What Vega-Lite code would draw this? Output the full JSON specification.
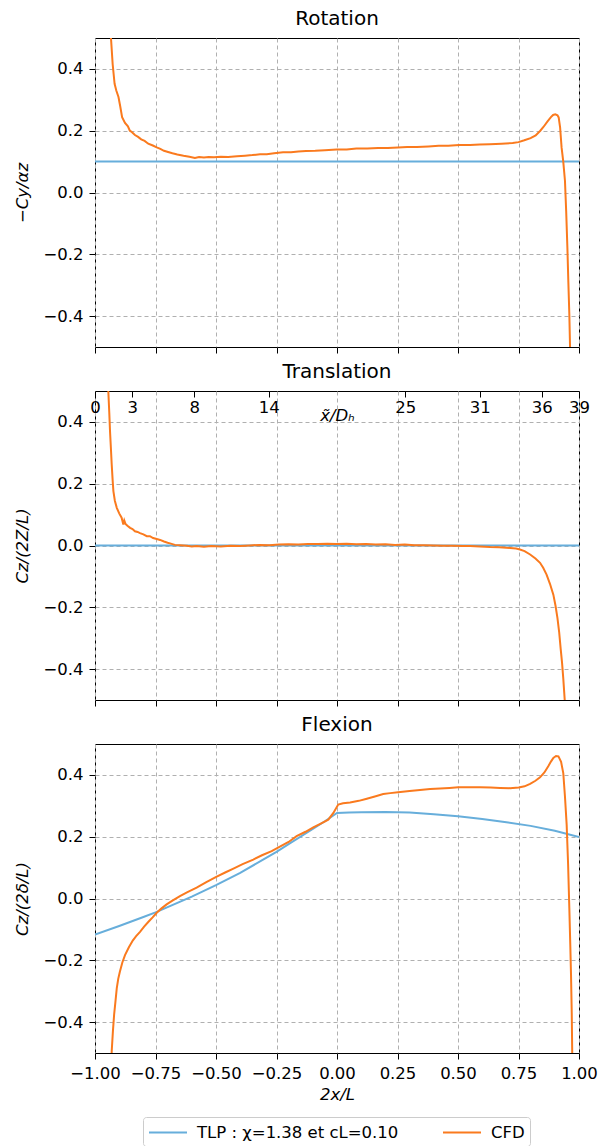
{
  "$schema": "https://vega.github.io/schema/vega-lite/v6.json",
  "padding": {"left": 14, "top": 8, "right": 5, "bottom": 5},
  "background": "white",
  "config": {
    "font": "DejaVu Sans",
    "view": {"stroke": "black", "strokeWidth": 1},
    "axis": {
      "labelFont": "DejaVu Sans", "labelFontSize": 16.5, "labelColor": "black",
      "titleFont": "DejaVu Sans", "titleFontSize": 16.5, "titleFontWeight": "normal", "titleColor": "black",
      "tickColor": "black", "tickSize": 6, "tickWidth": 1, "domain": false,
      "gridColor": "#b0b0b0", "gridDash": [4, 3], "gridWidth": 1, "labelPadding": 6,
      "labelFlush": false, "labelOverlap": false
    },
    "title": {"font": "DejaVu Sans", "fontSize": 20, "fontWeight": "normal", "color": "black", "offset": 9, "baseline": "alphabetic"}
  },
  "datasets": {
    "rot_tlp": [{"x": -1, "y": 0.1}, {"x": 1, "y": 0.1}],
    "trans_tlp": [{"x": -1, "y": 0.0}, {"x": 1, "y": 0.0}],
    "top_ticks": [{"xt": 0}, {"xt": 3}, {"xt": 8}, {"xt": 14}, {"xt": 25}, {"xt": 31}, {"xt": 36}, {"xt": 39}],
    "rot_cfd": [
      {"x": -0.94, "y": 0.6}, {"x": -0.934, "y": 0.5}, {"x": -0.927, "y": 0.415}, {"x": -0.919, "y": 0.352},
      {"x": -0.912, "y": 0.33}, {"x": -0.903, "y": 0.309}, {"x": -0.896, "y": 0.28}, {"x": -0.888, "y": 0.244},
      {"x": -0.876, "y": 0.225}, {"x": -0.864, "y": 0.214}, {"x": -0.856, "y": 0.2}, {"x": -0.848, "y": 0.196},
      {"x": -0.835, "y": 0.186}, {"x": -0.822, "y": 0.18}, {"x": -0.809, "y": 0.172}, {"x": -0.795, "y": 0.167},
      {"x": -0.78, "y": 0.158}, {"x": -0.761, "y": 0.152}, {"x": -0.745, "y": 0.146}, {"x": -0.73, "y": 0.141},
      {"x": -0.715, "y": 0.135}, {"x": -0.698, "y": 0.131}, {"x": -0.68, "y": 0.127}, {"x": -0.66, "y": 0.123},
      {"x": -0.634, "y": 0.119}, {"x": -0.61, "y": 0.116}, {"x": -0.587, "y": 0.112}, {"x": -0.57, "y": 0.115},
      {"x": -0.55, "y": 0.113}, {"x": -0.53, "y": 0.115}, {"x": -0.508, "y": 0.114}, {"x": -0.48, "y": 0.116},
      {"x": -0.45, "y": 0.115}, {"x": -0.413, "y": 0.117}, {"x": -0.38, "y": 0.119}, {"x": -0.35, "y": 0.121},
      {"x": -0.318, "y": 0.124}, {"x": -0.29, "y": 0.124}, {"x": -0.26, "y": 0.127}, {"x": -0.223, "y": 0.13},
      {"x": -0.19, "y": 0.13}, {"x": -0.16, "y": 0.133}, {"x": -0.128, "y": 0.134}, {"x": -0.09, "y": 0.135},
      {"x": -0.05, "y": 0.137}, {"x": -0.002, "y": 0.139}, {"x": 0.04, "y": 0.139}, {"x": 0.08, "y": 0.142},
      {"x": 0.125, "y": 0.142}, {"x": 0.17, "y": 0.144}, {"x": 0.21, "y": 0.144}, {"x": 0.252, "y": 0.146},
      {"x": 0.29, "y": 0.147}, {"x": 0.33, "y": 0.147}, {"x": 0.378, "y": 0.149}, {"x": 0.42, "y": 0.151},
      {"x": 0.46, "y": 0.151}, {"x": 0.505, "y": 0.154}, {"x": 0.55, "y": 0.154}, {"x": 0.59, "y": 0.155},
      {"x": 0.631, "y": 0.156}, {"x": 0.68, "y": 0.158}, {"x": 0.726, "y": 0.16}, {"x": 0.75, "y": 0.163},
      {"x": 0.774, "y": 0.169}, {"x": 0.8, "y": 0.176}, {"x": 0.821, "y": 0.185}, {"x": 0.84, "y": 0.2},
      {"x": 0.853, "y": 0.212}, {"x": 0.87, "y": 0.23}, {"x": 0.884, "y": 0.244}, {"x": 0.893, "y": 0.251},
      {"x": 0.902, "y": 0.253}, {"x": 0.911, "y": 0.25}, {"x": 0.916, "y": 0.243}, {"x": 0.922, "y": 0.21},
      {"x": 0.928, "y": 0.146}, {"x": 0.935, "y": 0.1}, {"x": 0.942, "y": 0.038}, {"x": 0.947, "y": -0.06},
      {"x": 0.952, "y": -0.178}, {"x": 0.956, "y": -0.29}, {"x": 0.96, "y": -0.393}, {"x": 0.963, "y": -0.5},
      {"x": 0.965, "y": -0.6}
    ],
    "trans_cfd": [
      {"x": -0.948, "y": 0.6}, {"x": -0.945, "y": 0.5}, {"x": -0.941, "y": 0.43}, {"x": -0.938, "y": 0.371},
      {"x": -0.934, "y": 0.31}, {"x": -0.931, "y": 0.263}, {"x": -0.927, "y": 0.21}, {"x": -0.924, "y": 0.176},
      {"x": -0.918, "y": 0.145}, {"x": -0.91, "y": 0.122}, {"x": -0.9, "y": 0.104}, {"x": -0.89, "y": 0.09},
      {"x": -0.883, "y": 0.068}, {"x": -0.879, "y": 0.081}, {"x": -0.874, "y": 0.07}, {"x": -0.866, "y": 0.064},
      {"x": -0.855, "y": 0.057}, {"x": -0.845, "y": 0.053}, {"x": -0.835, "y": 0.046}, {"x": -0.824, "y": 0.044},
      {"x": -0.814, "y": 0.04}, {"x": -0.8, "y": 0.036}, {"x": -0.786, "y": 0.03}, {"x": -0.773, "y": 0.03},
      {"x": -0.76, "y": 0.024}, {"x": -0.745, "y": 0.021}, {"x": -0.731, "y": 0.018}, {"x": -0.715, "y": 0.013},
      {"x": -0.7, "y": 0.009}, {"x": -0.69, "y": 0.007}, {"x": -0.67, "y": 0.002}, {"x": -0.649, "y": 0.001},
      {"x": -0.62, "y": -0.001}, {"x": -0.6, "y": -0.003}, {"x": -0.58, "y": -0.002}, {"x": -0.55, "y": -0.004},
      {"x": -0.52, "y": -0.002}, {"x": -0.48, "y": -0.003}, {"x": -0.44, "y": -0.001}, {"x": -0.4, "y": -0.002},
      {"x": -0.36, "y": 0.0}, {"x": -0.32, "y": 0.002}, {"x": -0.28, "y": 0.001}, {"x": -0.24, "y": 0.003},
      {"x": -0.2, "y": 0.004}, {"x": -0.16, "y": 0.003}, {"x": -0.12, "y": 0.005}, {"x": -0.08, "y": 0.005},
      {"x": -0.04, "y": 0.006}, {"x": 0.0, "y": 0.005}, {"x": 0.04, "y": 0.006}, {"x": 0.08, "y": 0.004},
      {"x": 0.12, "y": 0.005}, {"x": 0.16, "y": 0.003}, {"x": 0.2, "y": 0.004}, {"x": 0.24, "y": 0.002},
      {"x": 0.28, "y": 0.003}, {"x": 0.32, "y": 0.001}, {"x": 0.36, "y": 0.001}, {"x": 0.4, "y": 0.0},
      {"x": 0.44, "y": -0.001}, {"x": 0.48, "y": -0.001}, {"x": 0.52, "y": -0.002}, {"x": 0.55, "y": -0.002},
      {"x": 0.59, "y": -0.003}, {"x": 0.632, "y": -0.005}, {"x": 0.67, "y": -0.006}, {"x": 0.715, "y": -0.008},
      {"x": 0.74, "y": -0.01}, {"x": 0.756, "y": -0.013}, {"x": 0.775, "y": -0.018}, {"x": 0.798, "y": -0.029},
      {"x": 0.82, "y": -0.042}, {"x": 0.839, "y": -0.056}, {"x": 0.852, "y": -0.072}, {"x": 0.866, "y": -0.094},
      {"x": 0.88, "y": -0.124}, {"x": 0.894, "y": -0.159}, {"x": 0.903, "y": -0.195}, {"x": 0.911, "y": -0.235},
      {"x": 0.918, "y": -0.28}, {"x": 0.924, "y": -0.332}, {"x": 0.93, "y": -0.38}, {"x": 0.935, "y": -0.43},
      {"x": 0.941, "y": -0.5}, {"x": 0.945, "y": -0.56}
    ],
    "flex_tlp": [
      {"x": -1.0, "y": -0.117}, {"x": -0.9, "y": -0.089}, {"x": -0.8, "y": -0.06}, {"x": -0.75, "y": -0.045},
      {"x": -0.7, "y": -0.028}, {"x": -0.6, "y": 0.006}, {"x": -0.5, "y": 0.043}, {"x": -0.4, "y": 0.083},
      {"x": -0.3, "y": 0.128}, {"x": -0.25, "y": 0.151}, {"x": -0.2, "y": 0.176}, {"x": -0.1, "y": 0.225},
      {"x": -0.05, "y": 0.25}, {"x": 0.0, "y": 0.277}, {"x": 0.05, "y": 0.278}, {"x": 0.1, "y": 0.279},
      {"x": 0.2, "y": 0.28}, {"x": 0.3, "y": 0.278}, {"x": 0.4, "y": 0.273}, {"x": 0.5, "y": 0.266},
      {"x": 0.6, "y": 0.257}, {"x": 0.7, "y": 0.247}, {"x": 0.8, "y": 0.235}, {"x": 0.9, "y": 0.219},
      {"x": 1.0, "y": 0.199}
    ],
    "flex_cfd": [
      {"x": -0.935, "y": -0.6}, {"x": -0.931, "y": -0.495}, {"x": -0.926, "y": -0.43}, {"x": -0.921, "y": -0.376},
      {"x": -0.915, "y": -0.33}, {"x": -0.91, "y": -0.29}, {"x": -0.904, "y": -0.26}, {"x": -0.897, "y": -0.236},
      {"x": -0.887, "y": -0.207}, {"x": -0.876, "y": -0.183}, {"x": -0.86, "y": -0.158}, {"x": -0.844, "y": -0.136},
      {"x": -0.83, "y": -0.122}, {"x": -0.814, "y": -0.108}, {"x": -0.797, "y": -0.091}, {"x": -0.78, "y": -0.076},
      {"x": -0.762, "y": -0.061}, {"x": -0.745, "y": -0.046}, {"x": -0.725, "y": -0.032}, {"x": -0.704, "y": -0.019},
      {"x": -0.68, "y": -0.007}, {"x": -0.649, "y": 0.008}, {"x": -0.62, "y": 0.02}, {"x": -0.58, "y": 0.035},
      {"x": -0.54, "y": 0.053}, {"x": -0.497, "y": 0.071}, {"x": -0.46, "y": 0.085}, {"x": -0.428, "y": 0.097},
      {"x": -0.39, "y": 0.111}, {"x": -0.346, "y": 0.126}, {"x": -0.31, "y": 0.14}, {"x": -0.27, "y": 0.153},
      {"x": -0.236, "y": 0.168}, {"x": -0.2, "y": 0.183}, {"x": -0.167, "y": 0.202}, {"x": -0.13, "y": 0.216},
      {"x": -0.098, "y": 0.23}, {"x": -0.065, "y": 0.243}, {"x": -0.036, "y": 0.255}, {"x": -0.015, "y": 0.277},
      {"x": 0.005, "y": 0.304}, {"x": 0.025, "y": 0.308}, {"x": 0.054, "y": 0.311}, {"x": 0.09, "y": 0.316},
      {"x": 0.123, "y": 0.323}, {"x": 0.16, "y": 0.331}, {"x": 0.191, "y": 0.338}, {"x": 0.22, "y": 0.341},
      {"x": 0.252, "y": 0.344}, {"x": 0.3, "y": 0.348}, {"x": 0.343, "y": 0.351}, {"x": 0.385, "y": 0.354},
      {"x": 0.426, "y": 0.356}, {"x": 0.465, "y": 0.358}, {"x": 0.501, "y": 0.36}, {"x": 0.545, "y": 0.36},
      {"x": 0.591, "y": 0.36}, {"x": 0.635, "y": 0.359}, {"x": 0.674, "y": 0.358}, {"x": 0.715, "y": 0.357},
      {"x": 0.751, "y": 0.359}, {"x": 0.775, "y": 0.363}, {"x": 0.798, "y": 0.371}, {"x": 0.82, "y": 0.381},
      {"x": 0.839, "y": 0.392}, {"x": 0.857, "y": 0.408}, {"x": 0.873, "y": 0.428}, {"x": 0.884, "y": 0.443},
      {"x": 0.894, "y": 0.455}, {"x": 0.905, "y": 0.461}, {"x": 0.915, "y": 0.46}, {"x": 0.926, "y": 0.442},
      {"x": 0.935, "y": 0.406}, {"x": 0.942, "y": 0.33}, {"x": 0.949, "y": 0.239}, {"x": 0.955, "y": 0.11},
      {"x": 0.96, "y": -0.031}, {"x": 0.964, "y": -0.15}, {"x": 0.967, "y": -0.246}, {"x": 0.97, "y": -0.37},
      {"x": 0.972, "y": -0.5}, {"x": 0.974, "y": -0.6}
    ]
  },
  "bounds": "flush",
  "spacing": 44,
  "resolve": {"scale": {"color": "independent"}},
  "vconcat": [
    {
      "title": "Rotation",
      "width": 484, "height": 309,
      "encoding": {
        "x": {"field": "x", "type": "quantitative", "scale": {"domain": [-1, 1], "nice": false, "zero": false},
              "axis": {"values": [-1, -0.75, -0.5, -0.25, 0, 0.25, 0.5, 0.75, 1], "labels": false, "title": null, "grid": true}},
        "y": {"field": "y", "type": "quantitative", "scale": {"domain": [-0.5, 0.5], "nice": false, "zero": false},
              "axis": {"values": [-0.4, -0.2, 0, 0.2, 0.4], "format": ".1f", "title": "−Cy/αz", "titleFontStyle": "italic", "titlePadding": 12, "grid": true}}
      },
      "layer": [
        {"data": {"name": "rot_tlp"}, "mark": {"type": "line", "color": "#67aedb", "strokeWidth": 2, "clip": true}},
        {"data": {"name": "rot_cfd"}, "mark": {"type": "line", "color": "#fa7a1e", "strokeWidth": 2, "clip": true}}
      ]
    },
    {
      "title": "Translation",
      "width": 484, "height": 309,
      "resolve": {"scale": {"x": "independent"}, "axis": {"x": "independent"}},
      "layer": [
        {
          "encoding": {
            "x": {"field": "x", "type": "quantitative", "scale": {"domain": [-1, 1], "nice": false, "zero": false},
                  "axis": {"values": [-1, -0.75, -0.5, -0.25, 0, 0.25, 0.5, 0.75, 1], "labels": false, "title": null, "grid": true}},
            "y": {"field": "y", "type": "quantitative", "scale": {"domain": [-0.5, 0.5], "nice": false, "zero": false},
                  "axis": {"values": [-0.4, -0.2, 0, 0.2, 0.4], "format": ".1f", "title": "Cz/(2Z/L)", "titleFontStyle": "italic", "titlePadding": 12, "grid": true}}
          },
          "layer": [
            {"data": {"name": "trans_tlp"}, "mark": {"type": "line", "color": "#67aedb", "strokeWidth": 2, "clip": true}},
            {"data": {"name": "trans_cfd"}, "mark": {"type": "line", "color": "#fa7a1e", "strokeWidth": 2, "clip": true}}
          ]
        },
        {"data": {"name": "top_ticks"}, "mark": {"type": "point", "opacity": 0},
         "encoding": {
          "x": {"field": "xt", "type": "quantitative", "scale": {"domain": [0, 39], "nice": false, "zero": false},
                "axis": {"orient": "top", "values": [0, 3, 8, 14, 25, 31, 36, 39], "format": "d", "grid": false,
                         "tickSize": -6, "labelPadding": -15, "labelBaseline": "alphabetic",
                         "title": "x̃/Dₕ", "titleY": 29, "titleBaseline": "alphabetic", "titleFontStyle": "italic"}}
         }}
      ]
    },
    {
      "title": "Flexion",
      "width": 484, "height": 309,
      "encoding": {
        "x": {"field": "x", "type": "quantitative", "scale": {"domain": [-1, 1], "nice": false, "zero": false},
              "axis": {"values": [-1, -0.75, -0.5, -0.25, 0, 0.25, 0.5, 0.75, 1], "format": ".2f", "title": "2x/L", "titleFontStyle": "italic", "titlePadding": 5, "grid": true}},
        "y": {"field": "y", "type": "quantitative", "scale": {"domain": [-0.5, 0.5], "nice": false, "zero": false},
              "axis": {"values": [-0.4, -0.2, 0, 0.2, 0.4], "format": ".1f", "title": "Cz/(2δ/L)", "titleFontStyle": "italic", "titlePadding": 12, "grid": true}}
      },
      "layer": [
        {"data": {"name": "flex_tlp"}, "mark": {"type": "line", "strokeWidth": 2, "clip": true},
         "encoding": {"color": {"datum": "TLP : χ=1.38 et cL=0.10", "type": "nominal",
            "scale": {"domain": ["TLP : χ=1.38 et cL=0.10", "CFD"], "range": ["#67aedb", "#fa7a1e"]},
            "legend": {"orient": "none", "legendX": 48, "legendY": 373, "direction": "horizontal", "title": null,
                       "symbolType": "M-2,0H2", "symbolSize": 361, "symbolStrokeWidth": 2, "symbolOffset": 9.5,
                       "labelFontSize": 16.5, "labelColor": "black", "labelFont": "DejaVu Sans", "labelLimit": 400,
                       "strokeColor": "#cccccc", "cornerRadius": 3, "padding": 5, "fillColor": "white",
                       "columnPadding": 40, "labelOffset": 18.5}}}},
        {"data": {"name": "flex_cfd"}, "mark": {"type": "line", "strokeWidth": 2, "clip": true},
         "encoding": {"color": {"datum": "CFD", "type": "nominal"}}}
      ]
    }
  ]
}
